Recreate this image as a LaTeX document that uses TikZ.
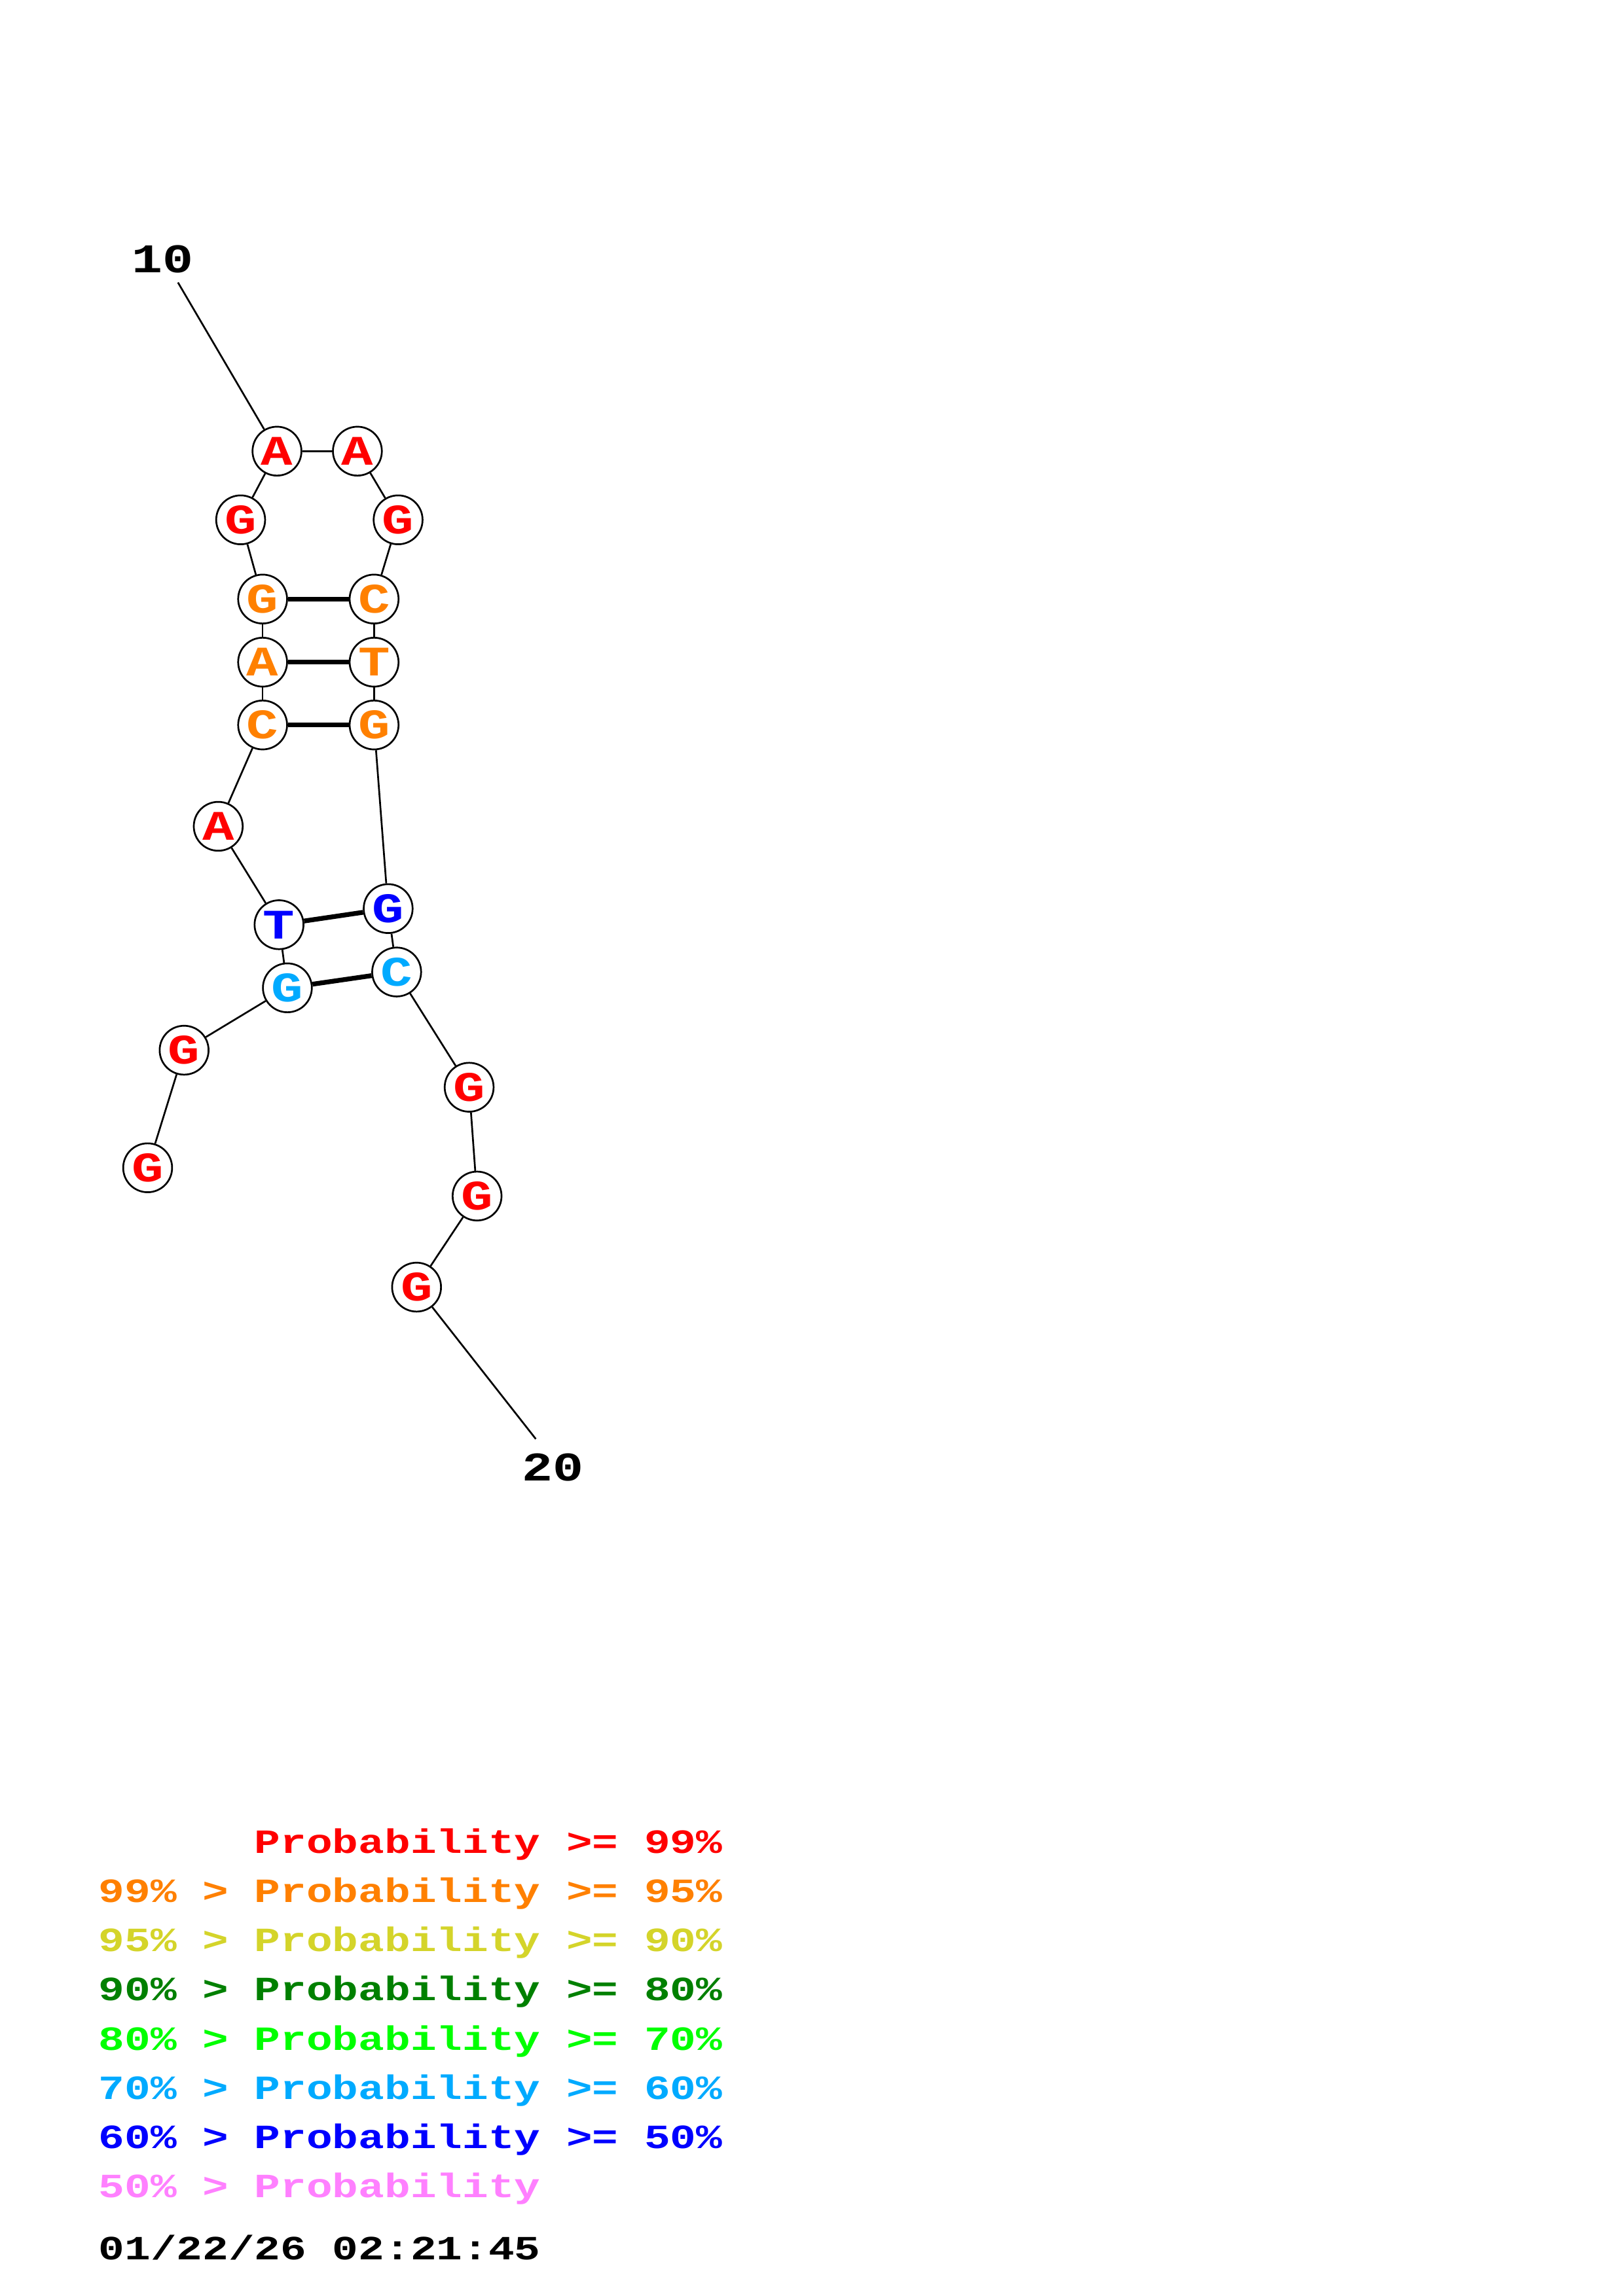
\documentclass[tikz,border=0pt]{standalone}
\usepackage{fontspec}
\newfontfamily\monoft[FakeStretch=1.256]{Liberation Mono}
\newfontfamily\legft[FakeStretch=1.275]{Liberation Mono}
\definecolor{pr}{HTML}{FF0000}
\definecolor{po}{HTML}{FF8000}
\definecolor{py}{HTML}{D4D42A}
\definecolor{pdg}{HTML}{008000}
\definecolor{pg}{HTML}{00FF00}
\definecolor{plb}{HTML}{00AAFF}
\definecolor{pb}{HTML}{0000FF}
\definecolor{pp}{HTML}{FF80FF}
\begin{document}
\begin{tikzpicture}[x=0.539pt,y=-0.539pt,
  nt/.style={circle,draw=black,fill=white,line width=0.65pt,minimum size=18pt,inner sep=0pt,
    font=\monoft\bfseries\fontsize{15.5}{15.5}\selectfont},
  bb/.style={line width=0.65pt},
  bp/.style={line width=1.75pt},
  lbl/.style={font=\monoft\bfseries\fontsize{15}{15}\selectfont,inner sep=0pt},
  leg/.style={anchor=base west,inner sep=0pt,font=\legft\bfseries\fontsize{12.5}{12.5}\selectfont}]
\useasboundingbox (0,0) rectangle (1108,1568);
\fill[white] (0,0) rectangle (1108,1568);
% nucleotides
\node[nt,text=pr] (n1) at (100.8,797.5) {G};
\node[nt,text=pr] (n2) at (125.7,717.2) {G};
\node[nt,text=plb] (n3) at (196.2,674.6) {G};
\node[nt,text=pb] (n4) at (190.5,631.5) {T};
\node[nt,text=pr] (n5) at (149.0,564.3) {A};
\node[nt,text=po] (n6) at (179.3,495.1) {C};
\node[nt,text=po] (n7) at (179.3,452.2) {A};
\node[nt,text=po] (n8) at (179.3,409.1) {G};
\node[nt,text=pr] (n9) at (164.3,355.0) {G};
\node[nt,text=pr] (n10) at (189.1,308.1) {A};
\node[nt,text=pr] (n11) at (244.0,308.1) {A};
\node[nt,text=pr] (n12) at (271.8,355.0) {G};
\node[nt,text=po] (n13) at (255.4,409.1) {C};
\node[nt,text=po] (n14) at (255.4,452.2) {T};
\node[nt,text=po] (n15) at (255.4,495.1) {G};
\node[nt,text=pb] (n16) at (265.0,620.5) {G};
\node[nt,text=plb] (n17) at (270.8,663.8) {C};
\node[nt,text=pr] (n18) at (320.3,742.5) {G};
\node[nt,text=pr] (n19) at (325.7,816.8) {G};
\node[nt,text=pr] (n20) at (284.4,879.0) {G};
% labels
\node[lbl] (l10) at (111.0,177.0) {10};
\node[lbl] (l20) at (377.5,1002.3) {20};
\coordinate (e10) at (121.5,192.9);
\coordinate (e20) at (365.8,982.7);
% backbone
\draw[bb] (n1) -- (n2);
\draw[bb] (n2) -- (n3);
\draw[bb] (n3) -- (n4);
\draw[bb] (n4) -- (n5);
\draw[bb] (n5) -- (n6);
\draw[bb] (n6) -- (n7);
\draw[bb] (n7) -- (n8);
\draw[bb] (n8) -- (n9);
\draw[bb] (n9) -- (n10);
\draw[bb] (n10) -- (n11);
\draw[bb] (n11) -- (n12);
\draw[bb] (n12) -- (n13);
\draw[bb] (n13) -- (n14);
\draw[bb] (n14) -- (n15);
\draw[bb] (n15) -- (n16);
\draw[bb] (n16) -- (n17);
\draw[bb] (n17) -- (n18);
\draw[bb] (n18) -- (n19);
\draw[bb] (n19) -- (n20);
\draw[bb] (e10) -- (n10);
\draw[bb] (n20) -- (e20);
% pairs
\draw[bp] (n8) -- (n13);
\draw[bp] (n7) -- (n14);
\draw[bp] (n6) -- (n15);
\draw[bp] (n4) -- (n16);
\draw[bp] (n3) -- (n17);
% legend
\node[leg,text=pr] (g1) at (67,1265.4) {\phantom{99\% > }Probability >= 99\%};
\node[leg,text=po] (g2) at (67,1299.0) {99\% > Probability >= 95\%};
\node[leg,text=py] (g3) at (67,1332.7) {95\% > Probability >= 90\%};
\node[leg,text=pdg] (g4) at (67,1366.3) {90\% > Probability >= 80\%};
\node[leg,text=pg] (g5) at (67,1400.0) {80\% > Probability >= 70\%};
\node[leg,text=plb] (g6) at (67,1433.6) {70\% > Probability >= 60\%};
\node[leg,text=pb] (g7) at (67,1467.3) {60\% > Probability >= 50\%};
\node[leg,text=pp] (g8) at (67,1500.9) {50\% > Probability};
\node[leg,text=black] (dt) at (67,1543.1) {01/22/26 02:21:45};
\end{tikzpicture}
\end{document}
